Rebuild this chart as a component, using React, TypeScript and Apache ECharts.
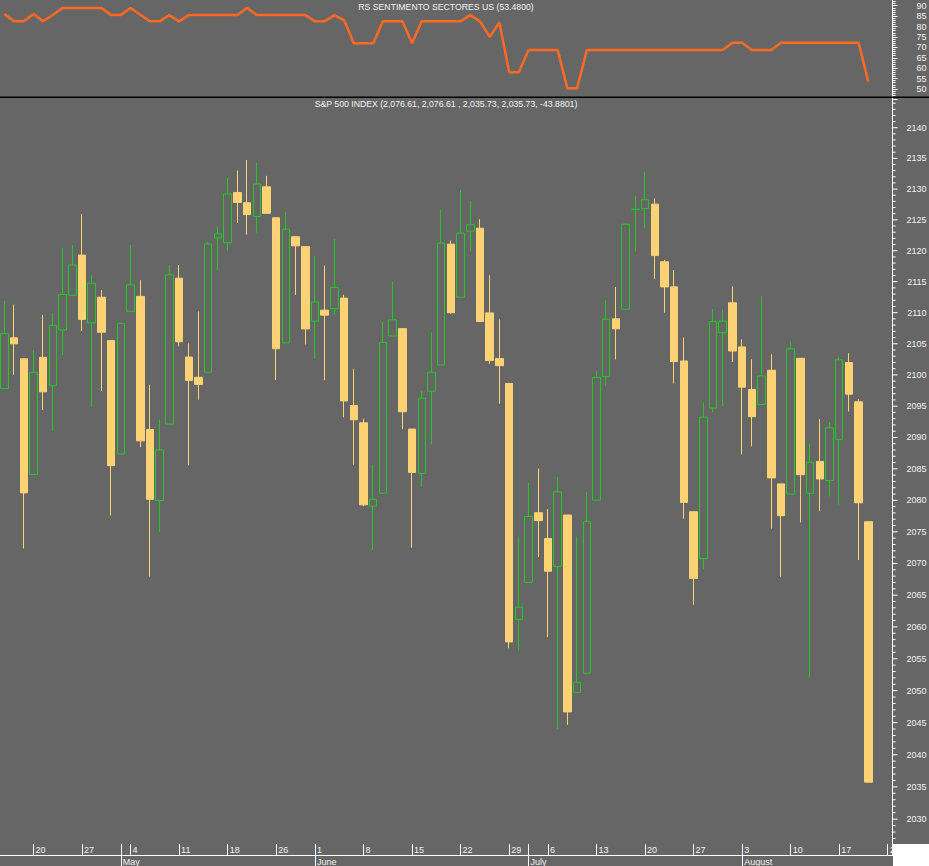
import React, { useEffect, useRef } from 'react';
import * as echarts from 'echarts';

// Trading days shown on the category axis (last two slots are empty)
const tradingDays = [
  '2015-04-15','2015-04-16','2015-04-17','2015-04-20','2015-04-21','2015-04-22','2015-04-23','2015-04-24','2015-04-27','2015-04-28','2015-04-29','2015-04-30',
  '2015-05-01','2015-05-04','2015-05-05','2015-05-06','2015-05-07','2015-05-08','2015-05-11','2015-05-12','2015-05-13','2015-05-14','2015-05-15','2015-05-18','2015-05-19','2015-05-20','2015-05-21','2015-05-22','2015-05-26','2015-05-27','2015-05-28','2015-05-29',
  '2015-06-01','2015-06-02','2015-06-03','2015-06-04','2015-06-05','2015-06-08','2015-06-09','2015-06-10','2015-06-11','2015-06-12','2015-06-15','2015-06-16','2015-06-17','2015-06-18','2015-06-19','2015-06-22','2015-06-23','2015-06-24','2015-06-25','2015-06-26','2015-06-29','2015-06-30',
  '2015-07-01','2015-07-02','2015-07-06','2015-07-07','2015-07-08','2015-07-09','2015-07-10','2015-07-13','2015-07-14','2015-07-15','2015-07-16','2015-07-17','2015-07-20','2015-07-21','2015-07-22','2015-07-23','2015-07-24','2015-07-27','2015-07-28','2015-07-29','2015-07-30','2015-07-31',
  '2015-08-03','2015-08-04','2015-08-05','2015-08-06','2015-08-07','2015-08-10','2015-08-11','2015-08-12','2015-08-13','2015-08-14','2015-08-17','2015-08-18','2015-08-19','2015-08-20','2015-08-21','2015-08-24',
];

const opens = [
  2097.82, 2105.96, 2102.58, 2084.11, 2102.82, 2098.27, 2107.21, 2112.80, 2119.29, 2108.35,
  2112.49, 2105.52, 2087.38, 2110.23, 2112.63, 2091.26, 2079.96, 2092.13, 2115.56, 2102.87,
  2099.62, 2100.43, 2122.07, 2121.30, 2129.45, 2127.79, 2125.55, 2130.36, 2125.34, 2105.13,
  2122.27, 2120.66, 2108.64, 2110.41, 2110.64, 2112.35, 2095.09, 2092.34, 2079.07, 2081.12,
  2106.24, 2107.43, 2091.34, 2084.26, 2097.40, 2101.58, 2121.06, 2112.50, 2123.16, 2123.65,
  2109.96, 2102.62, 2098.63, 2061.19, 2067.00, 2078.03, 2073.95, 2069.52, 2077.66, 2049.73,
  2052.74, 2080.03, 2099.72, 2109.01, 2110.55, 2126.70, 2126.85, 2127.55, 2118.21, 2114.16,
  2102.24, 2078.19, 2070.75, 2094.70, 2106.78, 2111.60, 2104.49, 2097.68, 2095.27, 2100.75,
  2082.61, 2080.98, 2102.66, 2081.10, 2086.19, 2083.15, 2089.70, 2101.99, 2095.69, 2076.61,
];

const closes = [
  2106.63, 2104.99, 2081.18, 2100.40, 2097.29, 2107.96, 2112.93, 2117.69, 2108.92, 2114.76,
  2106.85, 2085.51, 2108.29, 2114.49, 2089.46, 2080.15, 2088.00, 2116.10, 2105.33, 2099.12,
  2098.48, 2121.10, 2122.73, 2129.20, 2127.83, 2125.85, 2130.82, 2126.06, 2104.20, 2123.48,
  2120.79, 2107.39, 2111.73, 2109.60, 2114.07, 2095.84, 2092.83, 2079.28, 2080.15, 2105.20,
  2108.86, 2094.11, 2084.43, 2096.29, 2100.44, 2121.24, 2109.99, 2122.85, 2124.20, 2108.58,
  2102.31, 2101.49, 2057.64, 2063.11, 2077.42, 2076.78, 2068.76, 2081.34, 2046.68, 2051.31,
  2076.62, 2099.60, 2108.95, 2107.40, 2124.29, 2126.70, 2128.28, 2119.21, 2114.15, 2102.15,
  2079.65, 2067.64, 2093.25, 2108.57, 2108.63, 2103.84, 2098.04, 2093.32, 2099.84, 2083.56,
  2077.57, 2104.18, 2084.07, 2086.05, 2083.39, 2091.54, 2102.44, 2096.92, 2079.61, 2035.73,
];

const lows = [
  2097.82, 2100.02, 2072.37, 2084.11, 2094.38, 2091.05, 2103.19, 2112.80, 2107.04, 2094.89,
  2097.41, 2077.59, 2087.38, 2110.23, 2088.46, 2067.93, 2074.99, 2092.13, 2104.58, 2085.57,
  2096.04, 2100.43, 2116.81, 2120.01, 2124.50, 2122.59, 2122.95, 2126.06, 2099.18, 2105.13,
  2112.86, 2104.89, 2102.54, 2099.14, 2109.61, 2093.23, 2085.67, 2079.11, 2072.14, 2081.12,
  2106.24, 2091.33, 2072.49, 2082.10, 2088.86, 2101.58, 2109.83, 2112.50, 2119.89, 2108.58,
  2101.78, 2095.38, 2056.64, 2056.32, 2067.00, 2071.02, 2058.40, 2044.02, 2044.66, 2049.73,
  2052.74, 2080.03, 2098.18, 2102.49, 2110.55, 2119.88, 2123.66, 2115.40, 2110.00, 2098.63,
  2077.09, 2063.52, 2069.09, 2094.08, 2094.97, 2102.07, 2087.31, 2088.60, 2095.27, 2075.53,
  2067.91, 2080.98, 2076.49, 2052.09, 2078.26, 2080.61, 2079.30, 2094.14, 2070.53, 2035.73,
];

const highs = [
  2111.91, 2111.30, 2102.58, 2103.94, 2109.64, 2109.98, 2120.49, 2120.92, 2125.92, 2116.04,
  2113.65, 2105.52, 2108.41, 2120.95, 2115.24, 2098.42, 2092.90, 2117.66, 2117.69, 2105.06,
  2110.19, 2121.45, 2123.89, 2131.78, 2133.02, 2134.72, 2134.28, 2132.15, 2125.34, 2126.22,
  2122.27, 2120.66, 2119.15, 2117.59, 2121.92, 2112.89, 2100.99, 2093.01, 2085.62, 2108.50,
  2115.02, 2107.43, 2091.34, 2097.40, 2106.79, 2126.65, 2121.64, 2129.87, 2128.03, 2125.10,
  2116.04, 2108.92, 2098.63, 2074.28, 2082.78, 2085.06, 2078.61, 2083.74, 2077.66, 2074.28,
  2081.31, 2100.67, 2111.98, 2114.14, 2124.42, 2128.91, 2132.82, 2128.49, 2118.51, 2116.87,
  2106.01, 2078.19, 2095.60, 2110.60, 2110.48, 2114.24, 2105.70, 2102.51, 2112.66, 2103.32,
  2082.61, 2105.35, 2102.66, 2089.06, 2092.93, 2092.45, 2102.87, 2103.47, 2096.17, 2076.61,
];

const rsValues = [
  86, 82.5, 82.5, 86, 82.5, 85.7, 88.9, 88.9, 88.9, 88.9,
  88.9, 85.5, 85.5, 88.9, 85.7, 82.5, 82.5, 85.5, 82.5, 85.5,
  85.5, 85.5, 85.5, 85.5, 85.5, 88.9, 85.5, 85.5, 85.5, 85.5,
  85.5, 85.5, 82.5, 82.5, 85.5, 83, 72, 72, 72, 82.5,
  82.5, 82.5, 72, 82.5, 82.5, 82.5, 82.5, 82.5, 85.5, 82.5,
  75, 82, 58, 58, 68.7, 68.7, 68.7, 68.7, 50.3, 50.3,
  68.7, 68.7, 68.7, 68.7, 68.7, 68.7, 68.7, 68.7, 68.7, 68.7,
  68.7, 68.7, 68.7, 68.7, 68.7, 72.2, 72.2, 68.7, 68.7, 68.7,
  72.2, 72.2, 72.2, 72.2, 72.2, 72.2, 72.2, 72.2, 72.2, 53.48,
];

const priceTickLabels = [
  2030, 2035, 2040, 2045, 2050, 2055, 2060, 2065, 2070, 2075, 2080, 2085,
  2090, 2095, 2100, 2105, 2110, 2115, 2120, 2125, 2130, 2135, 2140,
];

const monthNames = ['January', 'February', 'March', 'April', 'May', 'June', 'July', 'August', 'September', 'October', 'November', 'December'];

const rsTitle = 'RS SENTIMENTO SECTORES US (53.4800)';
const priceTitle = 'S&P 500 INDEX (2,076.61, 2,076.61 , 2,035.73, 2,035.73, -43.8801)';

const FONT = '"Liberation Sans", Arial, sans-serif';
const TXT = '#f2f2f2';
const BG = '#666666';
const UP = '#22C922';
const DOWN = '#FCD274';

export default function App() {
  const ref = useRef<HTMLDivElement>(null);

  useEffect(() => {
    const chart = echarts.init(ref.current as HTMLDivElement, null, { renderer: 'svg' });

    const parse = (s: string) => {
      const [y, m, d] = s.split('-').map(Number);
      return new Date(Date.UTC(y, m - 1, d));
    };
    const weekStart = new Set<number>();
    const monthStart = new Set<number>();
    tradingDays.forEach((s, i) => {
      if (i === 0) return;
      const cur = parse(s);
      const prev = parse(tradingDays[i - 1]);
      if (cur.getUTCDay() < prev.getUTCDay() || (cur.getTime() - prev.getTime()) > 3 * 86400000) weekStart.add(i);
      if (cur.getUTCMonth() !== prev.getUTCMonth()) monthStart.add(i);
    });
    const upperTicks = new Set<number>([...weekStart, ...monthStart]);

    const candles = opens.map((o, i) => [o, closes[i], lows[i], highs[i]]);

    const option: any = {
      animation: false,
      backgroundColor: BG,
      grid: [
        { left: -0.5, right: 36.4, top: 97, bottom: 11, outerBoundsMode: 'none', containLabel: false },
        { left: -0.5, right: 36.4, top: -4.7, height: 104.1, outerBoundsMode: 'none', containLabel: false },
      ],
      xAxis: [
        {
          gridIndex: 0,
          type: 'category',
          data: tradingDays,
          boundaryGap: true,
          position: 'bottom',
          axisLine: { show: true, lineStyle: { color: '#ffffff', width: 1 } },
          axisTick: {
            show: true,
            inside: true,
            length: 11,
            alignWithLabel: true,
            interval: (i: number) => upperTicks.has(i),
            lineStyle: { color: '#ffffff', width: 1 },
          },
          axisLabel: {
            show: true,
            inside: true,
            margin: 5,
            interval: (i: number) => weekStart.has(i),
            formatter: (v: string) => String(Number(v.split('-')[2])),
            align: 'left',
            verticalAlign: 'middle',
            padding: [0, 0, 0, 2],
            color: TXT,
            fontSize: 9,
            fontFamily: FONT,
          },
          splitLine: { show: false },
        },
        {
          gridIndex: 0,
          type: 'category',
          data: tradingDays,
          boundaryGap: true,
          position: 'bottom',
          axisLine: { show: false },
          axisTick: {
            show: true,
            inside: false,
            length: 11,
            alignWithLabel: true,
            interval: (i: number) => monthStart.has(i),
            lineStyle: { color: '#ffffff', width: 1 },
          },
          axisLabel: {
            show: true,
            margin: 7,
            interval: (i: number) => monthStart.has(i),
            formatter: (v: string) => monthNames[Number(v.split('-')[1]) - 1],
            align: 'left',
            verticalAlign: 'middle',
            padding: [0, 0, 0, 2],
            color: TXT,
            fontSize: 9,
            fontFamily: FONT,
          },
          splitLine: { show: false },
        },
        {
          gridIndex: 1,
          type: 'category',
          data: tradingDays,
          boundaryGap: true,
          show: false,
        },
      ],
      yAxis: [
        {
          gridIndex: 0,
          type: 'log',
          logBase: 10,
          min: 2024.45,
          max: 2145.02,
          position: 'right',
          axisLine: { show: true, lineStyle: { color: '#ffffff', width: 1 } },
          axisTick: { show: false },
          axisLabel: { show: false },
          splitLine: { show: false },
        },
        {
          gridIndex: 1,
          type: 'value',
          min: 45,
          max: 95,
          interval: 5,
          position: 'right',
          axisLine: { show: true, lineStyle: { color: '#ffffff', width: 1 } },
          axisTick: { show: true, length: 5, lineStyle: { color: '#ffffff', width: 1 } },
          minorTick: { show: true, splitNumber: 5, length: 3, lineStyle: { color: '#ffffff', width: 1 } },
          axisLabel: {
            show: true,
            showMinLabel: false,
            showMaxLabel: false,
            align: 'right',
            margin: 34,
            color: TXT,
            fontSize: 9,
            fontFamily: FONT,
          },
          splitLine: { show: false },
        },
      ],
      series: [
        {
          type: 'candlestick',
          xAxisIndex: 0,
          yAxisIndex: 0,
          data: candles,
          barWidth: 8,
          itemStyle: {
            color: 'transparent',
            color0: DOWN,
            borderColor: UP,
            borderColor0: DOWN,
            borderColorDoji: UP,
            borderWidth: 1,
          },
        },
        {
          type: 'custom',
          xAxisIndex: 0,
          yAxisIndex: 0,
          data: priceTickLabels.map((v) => [0, v]),
          encode: { x: 0, y: 1 },
          clip: false,
          silent: true,
          z: 10,
          renderItem: (params: any, api: any) => {
            const v = api.value(1) as number;
            const cs = params.coordSys;
            const x0 = cs.x + cs.width;
            const y = api.coord([0, v])[1];
            const children: any[] = [
              { type: 'line', shape: { x1: x0, y1: y, x2: x0 + 5, y2: y }, style: { stroke: '#ffffff', lineWidth: 1 } },
            ];
            const offs = params.dataIndex === 0 ? [-4, -3, -2, -1, 1, 2, 3, 4] : [1, 2, 3, 4];
            offs.forEach((k) => {
              const yk = api.coord([0, v + k])[1];
              children.push({ type: 'line', shape: { x1: x0, y1: yk, x2: x0 + 3, y2: yk }, style: { stroke: '#ffffff', lineWidth: 1 } });
            });
            children.push({
              type: 'text',
              x: x0 + 34,
              y,
              style: { text: String(v), fill: TXT, fontSize: 9, fontFamily: FONT, align: 'right', verticalAlign: 'middle' },
            });
            return { type: 'group', children };
          },
        },
        {
          type: 'line',
          xAxisIndex: 2,
          yAxisIndex: 1,
          data: rsValues,
          symbol: 'none',
          lineStyle: { color: '#FF6A22', width: 2.5 },
        },
      ],
      graphic: [
        { type: 'rect', shape: { x: 0, y: 96.5, width: 929, height: 1.5 }, style: { fill: '#000000' }, z: 1 },
        { type: 'rect', shape: { x: 893, y: 844, width: 40, height: 30 }, style: { fill: '#ffffff' }, z: 100 },
        {
          type: 'text', x: 446, y: 7, z: 50,
          style: { text: rsTitle, fill: TXT, fontSize: 8.7, fontFamily: FONT, align: 'center', verticalAlign: 'middle' },
        },
        {
          type: 'text', x: 446, y: 104, z: 50,
          style: { text: priceTitle, fill: TXT, fontSize: 8.7, fontFamily: FONT, align: 'center', verticalAlign: 'middle' },
        },
      ],
    };

    chart.setOption(option);
    return () => chart.dispose();
  }, []);

  return <div ref={ref} style={{ position: 'fixed', left: 0, top: 0, width: 929, height: 866 }} />;
}
